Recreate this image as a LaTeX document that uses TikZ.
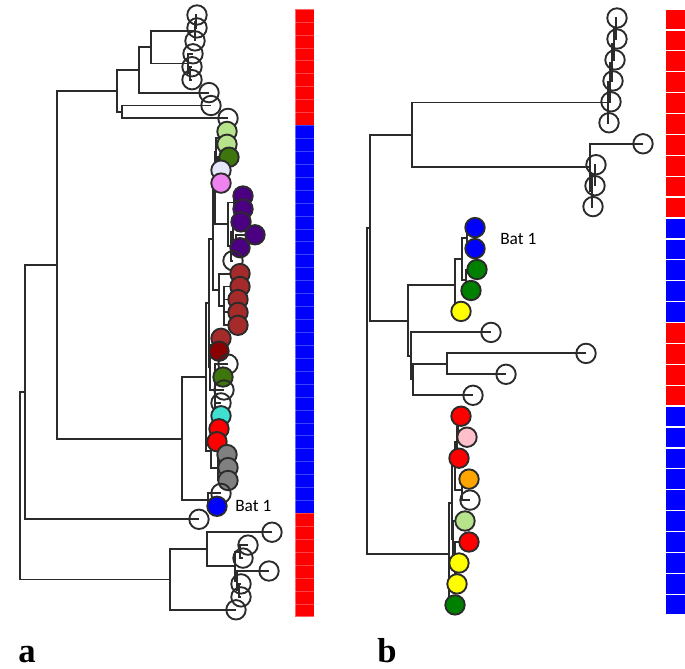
\documentclass[tikz,border=0pt]{standalone}
\usepackage{fontspec}
\setmainfont{Liberation Serif}
\newfontfamily\batfont{Carlito}
\definecolor{linec}{HTML}{2B2B2B}
\definecolor{lgreen}{RGB}{183,227,140}
\definecolor{dgreen}{RGB}{62,117,12}
\definecolor{lav}{RGB}{230,230,250}
\definecolor{vio}{RGB}{238,130,238}
\definecolor{indg}{RGB}{75,0,130}
\definecolor{brn}{RGB}{165,42,42}
\definecolor{dred}{RGB}{139,0,0}
\definecolor{turq}{RGB}{64,224,208}
\definecolor{gry}{RGB}{128,128,128}
\definecolor{bgreen}{RGB}{0,128,0}
\definecolor{yel}{RGB}{255,255,0}
\definecolor{pnk}{RGB}{255,192,203}
\definecolor{orng}{RGB}{255,165,0}
\def\leavesA{1/197/15/none,2/197/27.9/none,3/195/40.9/none,4/193/53.8/none,5/192/66.7/none,6/192/79.7/none,7/209/92.6/none,8/211/105.5/none,9/228/118.4/none,10/227/131.4/lgreen,11/227/144.3/lgreen,12/229/157.2/dgreen,13/221/170.2/lav,14/221/183.1/vio,15/243/196/indg,16/243/209/indg,17/241/221.9/indg,18/255/234.8/indg,19/240/247.7/indg,20/233/260.7/none,21/240/273.6/brn,22/240/286.5/brn,23/238/299.5/brn,24/238/312.4/brn,25/238/325.3/brn,26/221/338.3/brn,27/219/351.2/dred,28/228/364.1/none,29/223/377/dgreen,30/224/390/none,31/221/402.9/none,32/221/415.8/turq,33/219/428.8/red,34/217/441.7/red,35/227/454.6/gry,36/228/467.6/gry,37/228/480.5/gry,38/221/493.4/none,39/217/506.3/blue,40/199/519.3/none,41/272/532.2/none,42/248/545.1/none,43/243/558.1/none,44/269/571/none,45/241/583.9/none,46/241/596.9/none,47/236/609.8/none}
\def\leavesB{1/617/18/none,2/617/39/none,3/615/59.9/none,4/613/80.9/none,5/611/101.8/none,6/609/122.8/none,7/643/143.8/none,8/596/164.7/none,9/595/185.7/none,10/593/206.6/none,11/475/227.6/blue,12/475/248.6/blue,13/477/269.5/bgreen,14/471/290.5/bgreen,15/461/311.4/yel,16/491/332.4/none,17/586/353.4/none,18/506/374.3/none,19/473/395.3/none,20/461/416.2/red,21/467/437.2/pnk,22/459/458.2/red,23/469/479.1/orng,24/470/500.1/none,25/465/521/lgreen,26/469/542/red,27/459/563/yel,28/457/583.9/yel,29/455/604.9/bgreen}
\begin{document}
\begin{tikzpicture}[x=0.75pt,y=-0.75pt,
  br/.style={draw=linec,line width=1.45pt},
  lf/.style={circle,draw=linec,line width=1.4pt,minimum size=14.6pt,inner sep=0pt},
  lbl/.style={anchor=base west,inner sep=0pt,text depth=0pt}]
\useasboundingbox (0,0) rectangle (685,668);
% leaf positions
\foreach \i/\x/\y/\c in \leavesA {\coordinate (pa\i) at (\x,\y);}
\foreach \i/\x/\y/\c in \leavesB {\coordinate (pb\i) at (\x,\y);}
% internal nodes, panel a
\coordinate (n196) at (196,21.5);
\coordinate (n195) at (195,31.2);
\coordinate (n190) at (190,73.2);
\coordinate (n188) at (188,63.5);
\coordinate (n151) at (151,47.3);
\coordinate (n139) at (139,70);
\coordinate (n122) at (122,112);
\coordinate (n117) at (117,91);
\coordinate (nA) at (220,137.9);
\coordinate (nC) at (219,176.6);
\coordinate (nB) at (218,166.9);
\coordinate (n9) at (216,152.4);
\coordinate (nD) at (234,202.5);
\coordinate (nG) at (236,241.2);
\coordinate (nE) at (233,231.6);
\coordinate (nH) at (231,246.1);
\coordinate (n10) at (228,224.3);
\coordinate (n7) at (215,188.4);
\coordinate (nJ) at (224,305.9);
\coordinate (n11) at (219,289.8);
\coordinate (n5) at (213,239.1);
\coordinate (nL) at (214,344.7);
\coordinate (n12) at (215,390);
\coordinate (n6) at (210,367.3);
\coordinate (n3) at (209,303.2);
\coordinate (nM) at (214,435.2);
\coordinate (nO) at (218,467.6);
\coordinate (n4) at (211,451.4);
\coordinate (n1) at (206,377.3);
\coordinate (n2) at (208,499.9);
\coordinate (n182) at (182,438.6);
\coordinate (n57) at (57,264.8);
\coordinate (n25) at (25,392);
\coordinate (nS) at (240,551.6);
\coordinate (nT2) at (239,590.4);
\coordinate (nT) at (237,580.7);
\coordinate (nP) at (235,566.2);
\coordinate (nQ) at (207,549.2);
\coordinate (nBC) at (170,579.5);
\coordinate (nR) at (20,485.8);
% internal nodes, panel b
\coordinate (t1) at (616,28.5);
\coordinate (t2) at (614,44.2);
\coordinate (t3) at (612,62.5);
\coordinate (t4) at (610,82.2);
\coordinate (t5) at (608,102.5);
\coordinate (u1) at (595,175.2);
\coordinate (u2) at (592,190.9);
\coordinate (u3) at (590,167.3);
\coordinate (v) at (412,134.9);
\coordinate (f) at (467,238.1);
\coordinate (g) at (466,280);
\coordinate (e) at (462,259.1);
\coordinate (d) at (455,285.2);
\coordinate (c2) at (447,363.8);
\coordinate (c) at (413,379.5);
\coordinate (bb) at (411,356);
\coordinate (aa) at (408,320.6);
\coordinate (r1) at (370,227.8);
\coordinate (w3) at (458,426.7);
\coordinate (w4) at (457,442.4);
\coordinate (w1) at (462,489.6);
\coordinate (w2) at (455,466);
\coordinate (w11) at (456,573.4);
\coordinate (w10) at (455,557.7);
\coordinate (w5) at (453,539.4);
\coordinate (w6) at (452,502.7);
\coordinate (h) at (449,553.8);
\coordinate (r0) at (367,390.8);
% branches
\foreach \p/\q in {n196/pa1,n196/pa2,n195/n196,n195/pa3,n190/pa5,n190/pa6,n188/pa4,n188/n190,
  n151/n195,n151/n188,n139/n151,n139/pa7,n122/pa8,n122/pa9,n117/n139,n117/n122,
  n57/n117,n57/n182,n25/n57,n25/pa40,nR/n25,nR/nBC,
  nA/pa10,nA/pa11,nC/pa13,nC/pa14,nB/pa12,nB/nC,n9/nA,n9/nB,
  nD/pa15,nD/pa16,nG/pa18,nG/pa19,nE/pa17,nE/nG,nH/nE,nH/pa20,n10/nD,n10/nH,n7/n9,n7/n10,
  nJ/pa22,nJ/pa23,nJ/pa24,nJ/pa25,n11/pa21,n11/nJ,n5/n7,n5/n11,
  nL/pa26,nL/pa27,n12/pa28,n12/pa29,n12/pa30,n12/pa31,n12/pa32,n6/nL,n6/n12,n3/n5,n3/n6,
  nM/pa33,nM/pa34,nO/pa35,nO/pa36,nO/pa37,n4/nM,n4/nO,n1/n3,n1/n4,n2/pa38,n2/pa39,
  n182/n1,n182/n2,
  nS/pa42,nS/pa43,nT2/pa45,nT2/pa46,nT/pa44,nT/nT2,nP/nS,nP/nT,nQ/pa41,nQ/nP,nBC/nQ,nBC/pa47,
  t1/pb1,t1/pb2,t2/t1,t2/pb3,t3/t2,t3/pb4,t4/t3,t4/pb5,t5/t4,t5/pb6,
  u1/pb8,u1/pb9,u2/u1,u2/pb10,u3/pb7,u3/u2,v/t5,v/u3,
  f/pb11,f/pb12,g/pb13,g/pb14,e/f,e/g,d/e,d/pb15,
  c2/pb17,c2/pb18,c/c2,c/pb19,bb/pb16,bb/c,aa/d,aa/bb,r1/v,r1/aa,
  w3/pb20,w3/pb21,w4/w3,w4/pb22,w1/pb23,w1/pb24,w2/w4,w2/w1,
  w11/pb27,w11/pb28,w10/pb26,w10/w11,w5/pb25,w5/w10,w6/w2,w6/w5,h/w6,h/pb29,
  r0/r1,r0/h}
  {\draw[br] (\p) |- (\q);}
% leaves
\foreach \i/\x/\y/\c in \leavesA {\node[lf,fill=\c] (a\i) at (pa\i) {};}
\foreach \i/\x/\y/\c in \leavesB {\node[lf,fill=\c] (b\i) at (pb\i) {};}
% colour bar a
\fill[red] (295,9) rectangle (314,125.4);
\fill[blue] (295,125.4) rectangle (314,513.3);
\fill[red] (295,513.3) rectangle (314,616.7);
\foreach \k in {1,...,46} {\draw[white,opacity=0.25,line width=0.4pt] (295,{9+\k*12.93}) -- (314,{9+\k*12.93});}
\draw[white,opacity=0.4,line width=0.5pt] (295,9) rectangle (314,616.7);
% colour bar b
\foreach \k/\c in {1/red,2/red,3/red,4/red,5/red,6/red,7/red,8/red,9/red,10/red,
  11/blue,12/blue,13/blue,14/blue,15/blue,16/red,17/red,18/red,19/red,
  20/blue,21/blue,22/blue,23/blue,24/blue,25/blue,26/blue,27/blue,28/blue,29/blue}
  {\filldraw[fill=\c,draw=white,line width=1pt] (665,{9+(\k-1)*20.9}) rectangle (686,{9+\k*20.9});}
% labels
\node[lbl,font=\batfont\fontsize{13}{13}\selectfont] (bat1a) at (235,511) {Bat 1};
\node[lbl,font=\batfont\fontsize{13}{13}\selectfont] (bat1b) at (500,244) {Bat 1};
\node[lbl,font=\bfseries\fontsize{26}{26}\selectfont] (la) at (18,662) {a};
\node[lbl,font=\bfseries\fontsize{26}{26}\selectfont] (lb) at (377,662) {b};
\end{tikzpicture}
\end{document}
